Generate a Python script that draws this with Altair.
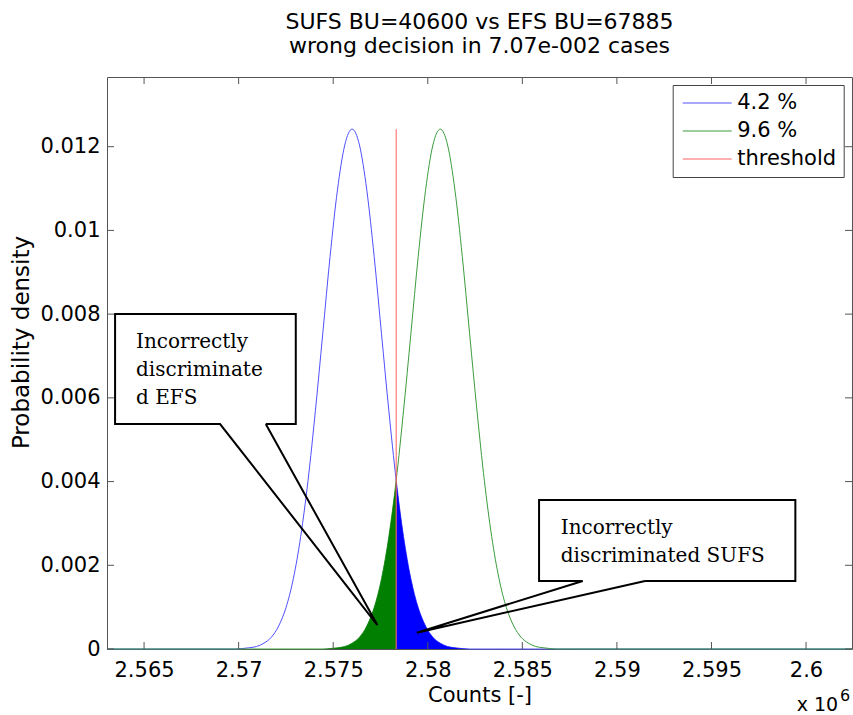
import altair as alt
import pandas as pd

# ---------------- data ----------------
# Counts axis values are in units of 1e6
counts = [2.56304, 2.569010, 2.569398, 2.569787, 2.570175, 2.570563, 2.570952, 2.571340,
          2.571728, 2.572117, 2.572505, 2.572893, 2.573282, 2.573670, 2.574058, 2.574447,
          2.574835, 2.575223, 2.575612, 2.576000, 2.576388, 2.576777, 2.577165, 2.577553,
          2.577942, 2.578330, 2.578718, 2.579107, 2.579495, 2.579883, 2.580272, 2.580660,
          2.581048, 2.581437, 2.581825, 2.582213, 2.582602, 2.582990, 2.583378, 2.583767,
          2.584155, 2.584543, 2.584932, 2.585320, 2.585708, 2.586097, 2.586485, 2.586873,
          2.587262, 2.587650, 2.60243]

sufs_density = [0.0, 0.0, 0.0, 0.0, 0.00001, 0.00003, 0.00006, 0.00014,
                0.00028, 0.00055, 0.00099, 0.00168, 0.00269, 0.00403, 0.00569, 0.00753,
                0.00938, 0.01096, 0.01204, 0.01242, 0.01204, 0.01096, 0.00938, 0.00753,
                0.00569, 0.00403, 0.00269, 0.00168, 0.00099, 0.00055, 0.00028, 0.00014,
                0.00006, 0.00003, 0.00001, 0.0, 0.0, 0.0, 0.0, 0.0,
                0.0, 0.0, 0.0, 0.0, 0.0, 0.0, 0.0, 0.0,
                0.0, 0.0, 0.0]

efs_density = [0.0, 0.0, 0.0, 0.0, 0.0, 0.0, 0.0, 0.0,
               0.0, 0.0, 0.0, 0.0, 0.0, 0.0, 0.0, 0.0,
               0.00001, 0.00003, 0.00006, 0.00014, 0.00028, 0.00055, 0.00099, 0.00168,
               0.00269, 0.00403, 0.00569, 0.00753, 0.00938, 0.01096, 0.01204, 0.01242,
               0.01204, 0.01096, 0.00938, 0.00753, 0.00569, 0.00403, 0.00269, 0.00168,
               0.00099, 0.00055, 0.00028, 0.00014, 0.00006, 0.00003, 0.00001, 0.0,
               0.0, 0.0, 0.0]

series_names = ["4.2 %", "9.6 %", "threshold"]
series_colors = ["#5050ff", "#3c9c3c", "#ff6060"]
fill_colors = ["#0000ff", "#007f00"]

threshold = 2.57833
threshold_top = 0.01242

x_ticks = [2.565, 2.57, 2.575, 2.58, 2.585, 2.59, 2.595, 2.6]
y_ticks = [0, 0.002, 0.004, 0.006, 0.008, 0.01, 0.012]
x_domain = [2.56304, 2.60243]
y_domain = [0, 0.013665]

title_lines = ["SUFS BU=40600 vs EFS BU=67885", "wrong decision in 7.07e-002 cases"]
x_title = "Counts [-]"
y_title = "Probability density"

# callout outlines (data coordinates)
callout_id = [1, 1, 1, 1, 1, 1, 1, 1, 2, 2, 2, 2, 2, 2, 2, 2]
callout_x = [2.571434, 2.573021, 2.573021, 2.563467, 2.563467, 2.569018, 2.577335, 2.571434,
             2.591488, 2.599435, 2.599435, 2.585884, 2.585884, 2.588194, 2.579418, 2.591488]
callout_y = [0.005375, 0.005375, 0.008003, 0.008003, 0.005375, 0.005375, 0.000573, 0.005375,
             0.001625, 0.001625, 0.003560, 0.003560, 0.001625, 0.001625, 0.000389, 0.001625]
callout_text = ["Incorrectly\ndiscriminate\nd EFS", "Incorrectly\ndiscriminated SUFS"]
callout_text_x = [2.564577, 2.587031]
callout_text_y = [0.007198, 0.002740]

# ---------------- tables ----------------
W, H = 745, 572
df = pd.DataFrame({"counts": counts, "sufs": sufs_density, "efs": efs_density})
long = df.melt(id_vars="counts", var_name="key", value_name="density")
long["series"] = long["key"].map({"sufs": series_names[0], "efs": series_names[1]})
thr_df = pd.DataFrame({"counts": [threshold], "lo": [0.0], "hi": [threshold_top], "series": ["threshold"]})
call_df = pd.DataFrame({"cx": callout_x, "cy": callout_y, "cid": callout_id,
                        "ord": list(range(len(callout_x)))})
txt_df = pd.DataFrame({"tx": callout_text_x, "ty": callout_text_y, "label": callout_text})
xt_df = pd.DataFrame({"v": x_ticks})
yt_df = pd.DataFrame({"v": y_ticks})

FONT = "DejaVu Sans"
x_axis = alt.Axis(values=x_ticks, format="~g", ticks=False, domain=False, grid=False,
                  labelPadding=10, labelFontSize=21, labelFont=FONT, labelColor="black",
                  title=x_title, titleFont=FONT, titleFontSize=21, titleFontWeight="normal",
                  titleColor="black", titleY=52.7, titleBaseline="alphabetic")
y_axis = alt.Axis(values=y_ticks, format="~g", ticks=False, domain=False, grid=False,
                  labelPadding=7, labelFontSize=21, labelFont=FONT, labelColor="black",
                  title=y_title, titleFont=FONT, titleFontSize=23, titleFontWeight="normal",
                  titleColor="black", titleX=-78.7, titleY=265, titleBaseline="alphabetic",
                  titleAlign="center", titleAngle=270)
x_scale = alt.Scale(domain=x_domain, nice=False, zero=False)
y_scale = alt.Scale(domain=y_domain, nice=False, zero=False)


def X(f):
    return alt.X(f"{f}:Q", scale=x_scale, axis=x_axis, title=x_title)


def Y(f):
    return alt.Y(f"{f}:Q", scale=y_scale, axis=y_axis, title=y_title)


color = alt.Color("series:N",
                  scale=alt.Scale(domain=series_names, range=series_colors),
                  legend=alt.Legend(orient="none", legendX=565.7, legendY=8, title=None,
                                    padding=7.5, strokeColor="#444", fillColor="white",
                                    labelFont=FONT, labelFontSize=21, labelColor="black",
                                    symbolType="M-0.8,0H4.1", symbolSize=400,
                                    symbolStrokeWidth=1, labelOffset=36, rowPadding=6))

curves = alt.Chart(long).mark_line(interpolate="monotone", strokeWidth=1).encode(
    x=X("counts"), y=Y("density"), color=color)

green_fill = alt.Chart(df).transform_filter(alt.datum.counts <= threshold).mark_area(
    interpolate="monotone", color=fill_colors[1]).encode(x=X("counts"), y=Y("efs"))

blue_fill = alt.Chart(df).transform_filter(alt.datum.counts >= threshold).mark_area(
    interpolate="monotone", color=fill_colors[0]).encode(x=X("counts"), y=Y("sufs"))

thr_rule = alt.Chart(thr_df).mark_rule(strokeWidth=1).encode(
    x=X("counts"), y=Y("lo"), y2="hi:Q", color=color)

tick_b = alt.Chart(xt_df).mark_rule(color="#555").encode(x=X("v"), y=alt.value(H), y2=alt.value(H - 7))
tick_t = alt.Chart(xt_df).mark_rule(color="#555").encode(x=X("v"), y=alt.value(0), y2=alt.value(7))
tick_l = alt.Chart(yt_df).mark_rule(color="#555").encode(y=Y("v"), x=alt.value(0), x2=alt.value(7))
tick_r = alt.Chart(yt_df).mark_rule(color="#555").encode(y=Y("v"), x=alt.value(W), x2=alt.value(W - 7))

callouts = alt.Chart(call_df).mark_line(color="black", strokeWidth=2, strokeJoin="miter").encode(
    x=X("cx"), y=Y("cy"), order="ord:Q", detail="cid:N")

callout_labels = alt.Chart(txt_df).mark_text(
    align="left", baseline="alphabetic", font="DejaVu Serif", fontSize=20,
    lineHeight=28, lineBreak="\n", color="black").encode(x=X("tx"), y=Y("ty"), text="label:N")

exp_df = pd.DataFrame({"t": ["x 10"]})
sup_df = pd.DataFrame({"t": ["6"]})
exp_text = alt.Chart(exp_df).mark_text(align="left", baseline="alphabetic", font=FONT,
                                       fontSize=19, color="black").encode(
    text="t:N", x=alt.value(689.7), y=alt.value(634))
sup_text = alt.Chart(sup_df).mark_text(align="left", baseline="alphabetic", font=FONT,
                                       fontSize=16, color="black").encode(
    text="t:N", x=alt.value(733), y=alt.value(624))

chart = alt.layer(
    curves, green_fill, blue_fill, thr_rule, tick_b, tick_t, tick_l, tick_r,
    callouts, callout_labels, exp_text, sup_text
).properties(
    width=W, height=H,
    autosize=alt.AutoSizeParams(type="none"),
    padding={"left": 107, "top": 77, "right": 1, "bottom": 66},
    title=alt.TitleParams(text=title_lines, font=FONT, fontSize=22, fontWeight="normal",
                          color="black", anchor="middle", frame="group", lineHeight=24,
                          offset=19),
    background="white",
).configure_view(stroke="#555", strokeWidth=1)

chart.save("out.html", embed_options={"renderer": "svg", "actions": False})
